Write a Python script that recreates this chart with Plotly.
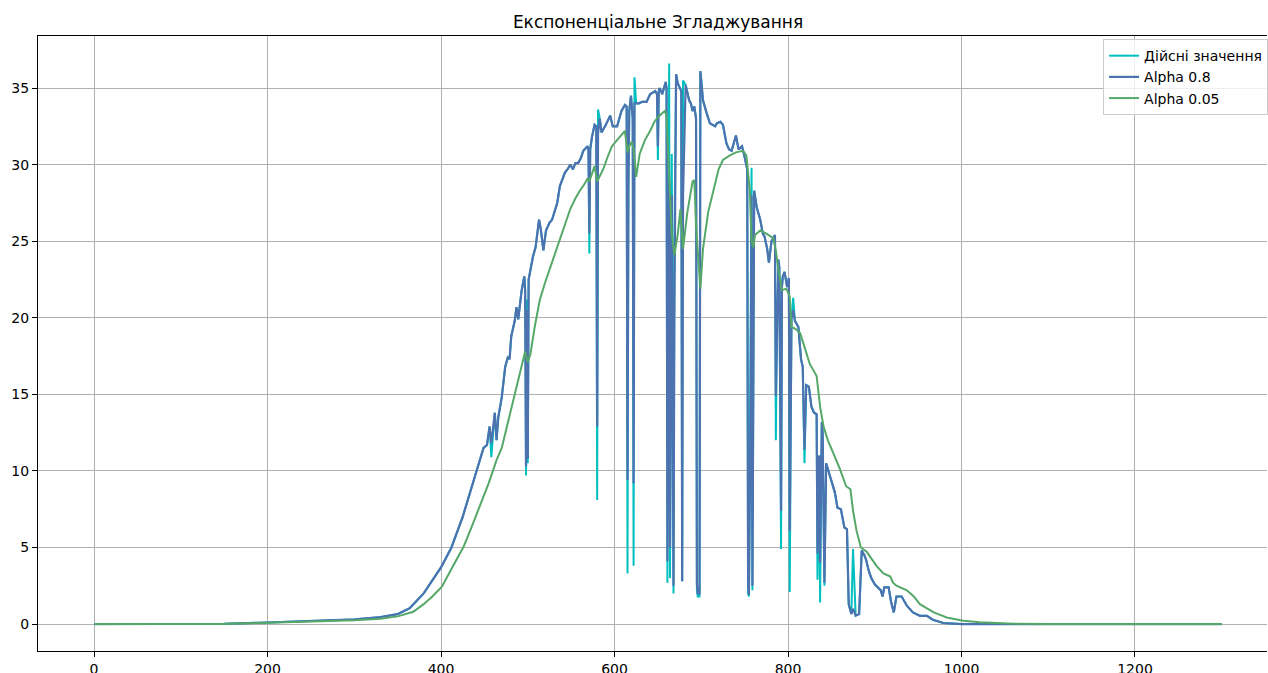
import plotly.graph_objects as go

# ---- data ----
# Alpha 0.8 smoothed series (x index, value)
a08_x = [0, 50, 100, 150, 200, 250, 300, 330, 350, 364, 380, 400, 412, 425, 435, 445, 449, 453, 456, 458,
         462, 464, 466, 470, 474, 477, 479, 481, 485, 487, 489, 493, 496, 497, 498, 499, 500, 501, 506, 509,
         513, 515, 518, 521, 525, 528, 531, 534, 537, 540, 543, 546, 549, 552, 555, 558, 561, 564, 566, 569,
         570, 571, 572, 574, 577, 579, 580, 581, 583, 585, 590, 595, 598, 603, 608, 612, 614, 615, 616, 617,
         619, 621, 622, 623, 625, 628, 632, 637, 641, 647, 649, 650, 651, 652, 655, 659, 660, 661, 663, 664,
         666, 668, 669, 671, 673, 675, 677, 678, 679, 682, 684, 686, 688, 690, 692, 694, 695, 696, 698, 699,
         700, 702, 706, 710, 716, 718, 722, 725, 729, 732, 735, 738, 740, 743, 747, 750, 753, 754, 755, 757,
         758, 759, 761, 764, 768, 771, 773, 776, 778, 781, 785, 786, 787, 789, 790, 792, 793, 794, 796, 799,
         801, 802, 804, 806, 808, 812, 815, 817, 819, 821, 824, 827, 830, 833, 834, 836, 837, 839, 840, 842,
         844, 846, 850, 854, 857, 861, 865, 868, 870, 872, 873, 875, 878, 882, 884, 885, 888, 890, 893, 896,
         900, 904, 907, 909, 911, 916, 919, 922, 925, 931, 937, 944, 952, 960, 967, 979, 1000, 1100, 1200, 1300]
a08_y = [0, 0, 0, 0.02, 0.1, 0.2, 0.3, 0.45, 0.65, 1.04, 2.0, 3.7, 5.0, 7.0, 8.9, 10.9, 11.5, 11.7, 12.9, 11.8,
         13.8, 12.0, 13.5, 14.8, 16.8, 17.4, 17.3, 18.8, 19.8, 20.7, 19.9, 21.8, 22.7, 21.8, 10.3, 20.5, 10.8, 22.5, 24.0, 24.6,
         26.4, 25.8, 24.4, 25.7, 26.2, 26.4, 27.0, 27.5, 28.6, 29.0, 29.5, 29.7, 30.0, 29.7, 30.1, 30.1, 30.4, 30.9, 31.0, 31.2,
         31.0, 25.5, 31.0, 31.8, 32.6, 32.5, 12.9, 32.0, 33.0, 32.1, 32.6, 33.2, 32.5, 32.5, 33.5, 33.9, 33.8, 9.4, 28.3, 33.5,
         34.5, 33.0, 9.2, 34.0, 34.0, 34.0, 34.1, 34.1, 34.6, 34.8, 34.6, 31.2, 34.8, 35.0, 34.6, 35.4, 35.0, 4.1, 29.0, 5.0,
         28.0, 2.5, 20.0, 35.9, 35.3, 35.0, 34.8, 2.8, 28.0, 35.2, 34.7, 34.2, 34.0, 33.5, 33.8, 33.0, 2.6, 2.0, 2.0, 36.1,
         35.5, 34.2, 33.4, 32.7, 32.5, 32.7, 32.8, 32.6, 31.4, 31.0, 30.9, 31.5, 31.9, 31.0, 31.2, 30.5, 29.7, 2.5, 1.9, 15.0,
         28.0, 2.5, 28.3, 27.2, 26.4, 25.5, 25.3, 24.5, 23.6, 25.0, 25.4, 14.9, 18.1, 23.8, 23.3, 7.4, 22.0, 22.7, 23.0, 22.0,
         22.6, 6.1, 19.9, 20.5, 19.8, 19.4, 17.3, 16.8, 11.4, 15.6, 15.5, 14.2, 13.8, 13.7, 4.6, 11.0, 4.0, 13.2, 12.4, 2.7,
         10.5, 10.1, 9.4, 8.6, 7.6, 7.5, 6.3, 6.2, 1.3, 0.76, 0.65, 1.0, 0.55, 0.65, 3.0, 4.8, 4.5, 4.2, 3.5, 3.0,
         2.6, 2.4, 2.2, 1.8, 2.4, 2.4, 1.4, 0.76, 1.8, 1.8, 1.2, 0.76, 0.54, 0.54, 0.28, 0.07, 0, 0, 0, 0]

# Actual values differ from the Alpha 0.8 curve mainly at the sharp spikes
actual_spike_x = [458, 498, 499, 500, 571, 580, 581, 615, 622, 623, 650, 661, 663, 664, 666, 668, 669,
                  678, 679, 695, 696, 698, 754, 755, 757, 758, 759, 786, 792, 802, 806, 819, 834, 837, 842, 875]
actual_spike_y = [10.9, 9.7, 21.2, 10.5, 24.2, 8.1, 33.6, 3.3, 3.8, 35.7, 30.3, 2.7, 36.6, 3.0, 30.7, 2.0, 25.0,
                  2.8, 35.5, 2.2, 1.8, 1.8, 2.0, 1.8, 20.0, 29.8, 2.2, 12.0, 4.9, 2.1, 21.3, 10.5, 2.9, 1.4, 2.5, 4.9]

# Alpha 0.05 smoothed series
a005_x = [0, 150, 200, 250, 300, 330, 350, 368, 380, 390, 401, 412, 426, 435, 445, 455, 464, 470, 476, 481,
          487, 492, 497, 500, 503, 508, 514, 520, 526, 531, 537, 543, 549, 555, 560, 565, 569, 571, 577, 580,
          587, 592, 597, 600, 606, 612, 615, 617, 620, 622, 625, 629, 635, 641, 646, 650, 654, 658, 660, 664,
          666, 669, 673, 676, 679, 684, 690, 692, 694, 699, 702, 708, 716, 720, 725, 733, 740, 748, 752, 754,
          756, 758, 760, 762, 768, 775, 783, 786, 789, 793, 798, 802, 804, 808, 814, 819, 825, 833, 837, 841,
          846, 852, 860, 867, 872, 875, 879, 884, 891, 902, 910, 918, 921, 925, 937, 945, 952, 968, 983, 1002,
          1021, 1060, 1100, 1300]
a005_y = [0, 0.01, 0.08, 0.15, 0.25, 0.35, 0.5, 0.8, 1.3, 1.8, 2.44, 3.6, 5.05, 6.3, 7.77, 9.2, 10.7, 11.5, 12.9, 14.1,
          15.5, 16.7, 17.8, 17.1, 17.6, 19.4, 21.2, 22.3, 23.3, 24.2, 25.1, 26.1, 27.1, 27.8, 28.3, 28.7, 29.1, 28.9, 29.9, 28.9,
          29.7, 30.5, 31.2, 31.4, 31.8, 32.2, 30.8, 31.2, 31.5, 31.0, 29.2, 30.7, 31.6, 32.2, 32.8, 33.1, 33.3, 33.5, 33.2, 27.8,
          25.5, 24.1, 25.5, 27.1, 24.5, 26.9, 28.9, 29.0, 26.0, 21.9, 24.5, 26.9, 28.8, 29.7, 30.3, 30.6, 30.8, 30.9, 30.6, 29.5,
          28.3, 25.0, 24.6, 25.4, 25.7, 25.5, 25.2, 24.4, 23.1, 21.8, 21.9, 21.4, 19.4, 19.3, 19.0, 18.1, 17.0, 16.2, 14.2, 12.9,
          12.0, 11.2, 10.1, 9.0, 8.8, 7.4, 6.1, 5.0, 4.7, 3.8, 3.3, 3.1, 2.7, 2.5, 2.2, 1.8, 1.3, 0.76, 0.43, 0.22,
          0.11, 0.02, 0, 0]

title_text = "Експоненціальне Згладжування"
names = ["Дійсні значення", "Alpha 0.8", "Alpha 0.05"]
x_ticks = [0, 200, 400, 600, 800, 1000, 1200]
y_ticks = [0, 5, 10, 15, 20, 25, 30, 35]

# build actual series from Alpha 0.8 curve with spike values
spikes = dict(zip(actual_spike_x, actual_spike_y))
actual_y = [spikes.get(x, y) for x, y in zip(a08_x, a08_y)]

FONT = "DejaVu Sans"
fig = go.Figure()
fig.add_trace(go.Scatter(x=a08_x, y=actual_y, mode="lines", name=names[0],
                         line=dict(color="#00BFBF", width=2)))
fig.add_trace(go.Scatter(x=a08_x, y=a08_y, mode="lines", name=names[1],
                         line=dict(color="#4C72B0", width=2.2)))
fig.add_trace(go.Scatter(x=a005_x, y=a005_y, mode="lines", name=names[2],
                         line=dict(color="#55A868", width=2)))

axis_common = dict(showgrid=True, gridcolor="#b0b0b0", gridwidth=1.1, zeroline=False,
                   showline=True, linecolor="black", linewidth=1.1, automargin=False,
                   ticks="outside", ticklen=5, tickwidth=1.1, tickcolor="black",
                   tickfont=dict(family=FONT, size=14, color="black"))

fig.update_layout(
    width=1268, height=673,
    margin=dict(l=38, r=1, t=36, b=22, autoexpand=False),
    paper_bgcolor="white", plot_bgcolor="white",
    font=dict(family=FONT, size=14, color="black"),
    title=dict(text=title_text, x=0.5045, xref="paper", xanchor="center",
               y=1 - 22 / 673, yref="container", yanchor="middle",
               font=dict(family=FONT, size=17, color="black")),
    xaxis=dict(range=[-64.6, 1352.2], tickvals=x_ticks, mirror=True, **axis_common),
    yaxis=dict(range=[-1.76, 38.40], tickvals=y_ticks, mirror=False, **axis_common),
    legend=dict(x=0.8666, xanchor="left", y=0.995, yanchor="top",
                bgcolor="rgba(255,255,255,0.8)", bordercolor="#cccccc", borderwidth=1,
                font=dict(family=FONT, size=14, color="black"), tracegroupgap=0,
                itemwidth=30),
    showlegend=True,
)

fig.write_html("out.html")
